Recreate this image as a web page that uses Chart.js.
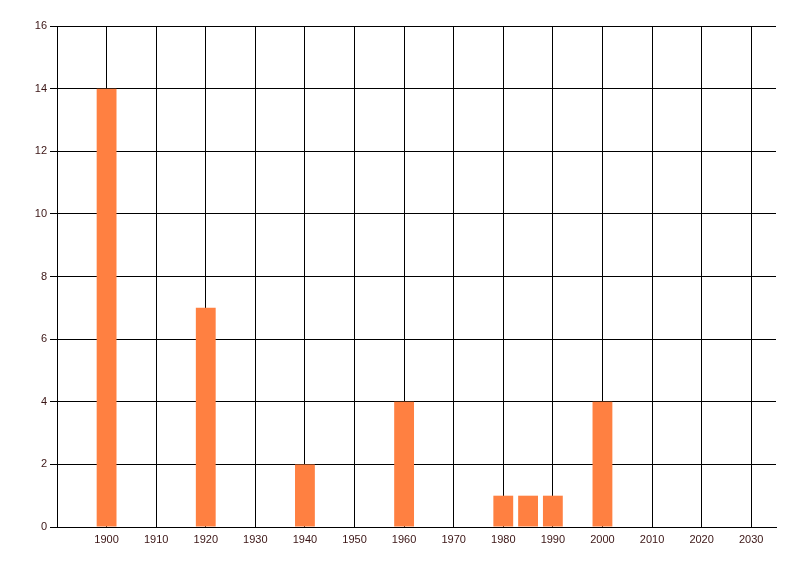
<!DOCTYPE html>
<html>
<head>
<meta charset="utf-8">
<script src="https://cdn.jsdelivr.net/npm/chart.js@4/dist/chart.umd.min.js"></script>
<style>
html,body{margin:0;padding:0;background:#fff;}
#wrap{width:800px;height:576px;}
</style>
</head>
<body>
<div id="wrap"><canvas id="c" width="800" height="576"></canvas></div>
<script>
const years = [1900, 1920, 1940, 1960, 1980, 1985, 1990, 2000];
const counts = [14, 7, 2, 4, 1, 1, 1, 4];
const xMin = 1890, xMax = 2035, xStep = 10, xLastTick = 2030;
const yMin = 0, yMax = 16, yStep = 2;

const labelColor = '#3a1414';
const font = {family: '"Liberation Sans", Arial, sans-serif', size: 11};

const xTickValues = [];
for (let v = xMin; v <= xLastTick; v += xStep) xTickValues.push(v);

new Chart(document.getElementById('c'), {
  type: 'bar',
  data: {
    datasets: [{
      data: years.map((y, i) => ({x: y, y: counts[i]})),
      backgroundColor: '#FF8041',
      borderWidth: 0,
      barPercentage: 0.8,
      categoryPercentage: 1.0
    }]
  },
  options: {
    responsive: false,
    animation: false,
    layout: {padding: {left: 0, top: 26, right: 24, bottom: 0}},
    plugins: {legend: {display: false}, tooltip: {enabled: false}},
    scales: {
      x: {
        type: 'linear',
        min: xMin, max: xMax,
        offset: false,
        afterBuildTicks: s => { s.ticks = xTickValues.map(v => ({value: v})); },
        afterFit: s => { s.height = 49; },
        ticks: {
          stepSize: xStep,
          color: labelColor,
          font: font,
          padding: 6,
          maxRotation: 0,
          autoSkip: false,
          callback: v => (v === xMin ? '' : String(v))
        },
        grid: {color: '#000', lineWidth: 1, drawTicks: false, offset: false},
        border: {color: '#000', width: 1}
      },
      y: {
        min: yMin, max: yMax,
        afterFit: s => { s.width = 57; },
        ticks: {stepSize: yStep, color: labelColor, font: font, padding: 3},
        grid: {color: '#000', lineWidth: 1, drawTicks: true, tickLength: 7},
        border: {color: '#000', width: 1}
      }
    }
  }
});
</script>
</body>
</html>
